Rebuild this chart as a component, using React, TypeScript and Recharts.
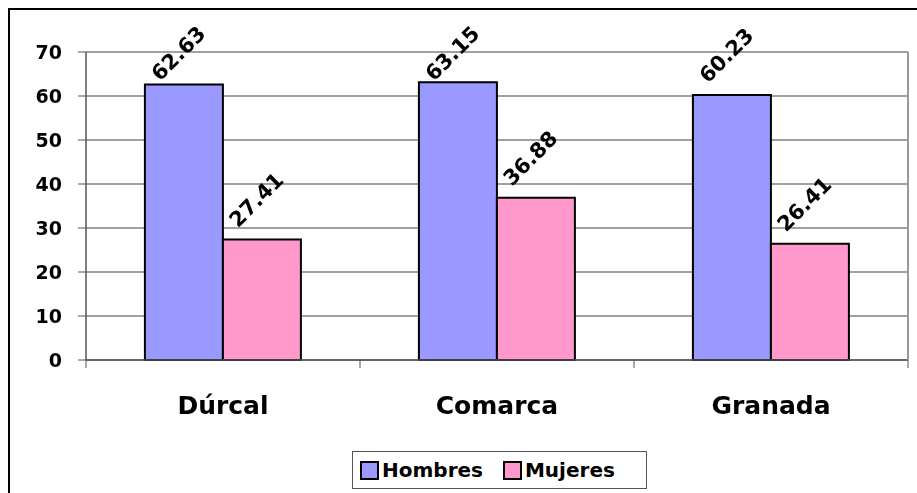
import { BarChart, Bar, XAxis, YAxis, CartesianGrid, LabelList } from "recharts";

const lugares = ["Dúrcal", "Comarca", "Granada"];
const hombres = [62.63, 63.15, 60.23];
const mujeres = [27.41, 36.88, 26.41];
const yTicks = [0, 10, 20, 30, 40, 50, 60, 70];

const data = lugares.map((lugar, i) => ({
  lugar,
  Hombres: hombres[i],
  Mujeres: mujeres[i],
}));

const FONT = "'DejaVu Sans', Verdana, sans-serif";

const CategoryTick = (props: any) => {
  const { x, y, payload, index, visibleTicksCount } = props;
  const half = payload.offset || 0;
  const last = index === visibleTicksCount - 1;
  return (
    <g>
      <line x1={x - half} x2={x - half} y1={y - 8} y2={y} stroke="#555" />
      {last && <line x1={x + half} x2={x + half} y1={y - 8} y2={y} stroke="#555" />}
      <text
        x={x}
        y={y}
        dy={46}
        textAnchor="middle"
        fontFamily={FONT}
        fontWeight="bold"
        fontSize={25}
        fill="#000"
      >
        {payload.value}
      </text>
    </g>
  );
};

const RotatedLabel = (props: any) => {
  const { x, y, value } = props;
  const lx = x + 15;
  const ly = Math.max(y - 11, 72);
  return (
    <text
      x={lx}
      y={ly}
      transform={`rotate(-45 ${lx} ${ly})`}
      fontFamily={FONT}
      fontWeight="bold"
      fontSize={21}
      fill="#000"
    >
      {value}
    </text>
  );
};

const Swatch = ({ color, label }: { color: string; label: string }) => (
  <div style={{ display: "flex", alignItems: "center" }}>
    <div
      style={{
        width: 15,
        height: 15,
        background: color,
        border: "2px solid #000",
        marginRight: 3,
      }}
    />
    <span style={{ fontFamily: FONT, fontWeight: "bold", fontSize: 20 }}>{label}</span>
  </div>
);

export default function App() {
  return (
    <div
      style={{
        position: "fixed",
        top: 8,
        left: 8,
        width: 907,
        height: 483,
        overflow: "hidden",
        borderLeft: "2px solid #000",
        borderTop: "2px solid #000",
      }}
    >
      <BarChart
        width={907}
        height={483}
        data={data}
        margin={{ top: 42, right: 9, bottom: 0, left: 0 }}
        barCategoryGap="21.5%"
        barGap={0}
      >
        <CartesianGrid vertical={false} stroke="#808080" strokeWidth={1.5} />
        <XAxis
          dataKey="lugar"
          height={133}
          tickSize={8}
          tickMargin={0}
          tickLine={false}
          axisLine={{ stroke: "#555", strokeWidth: 1.5 }}
          tick={<CategoryTick />}
        />
        <YAxis
          domain={[0, 70]}
          ticks={yTicks}
          width={76}
          tickSize={8}
          tickMargin={16}
          axisLine={{ stroke: "#555", strokeWidth: 1.5 }}
          tickLine={{ stroke: "#555" }}
          tick={{ fill: "#000", fontFamily: FONT, fontWeight: "bold", fontSize: 19 }}
        />
        <Bar dataKey="Hombres" fill="#9999FF" stroke="#000" strokeWidth={2} isAnimationActive={false}>
          <LabelList dataKey="Hombres" content={<RotatedLabel />} />
        </Bar>
        <Bar dataKey="Mujeres" fill="#FF99CC" stroke="#000" strokeWidth={2} isAnimationActive={false}>
          <LabelList dataKey="Mujeres" content={<RotatedLabel />} />
        </Bar>
      </BarChart>
      {/* right edge of the plot area */}
      <div
        style={{
          position: "absolute",
          left: 897,
          top: 42,
          width: 2,
          height: 308,
          background: "#999",
        }}
      />
      <div
        style={{
          position: "absolute",
          left: 342,
          top: 441,
          width: 286,
          height: 36,
          border: "1px solid #555",
          display: "flex",
          alignItems: "center",
          paddingLeft: 7,
          gap: 20,
          boxSizing: "content-box",
          background: "#fff",
        }}
      >
        <Swatch color="#9999FF" label="Hombres" />
        <Swatch color="#FF99CC" label="Mujeres" />
      </div>
    </div>
  );
}
